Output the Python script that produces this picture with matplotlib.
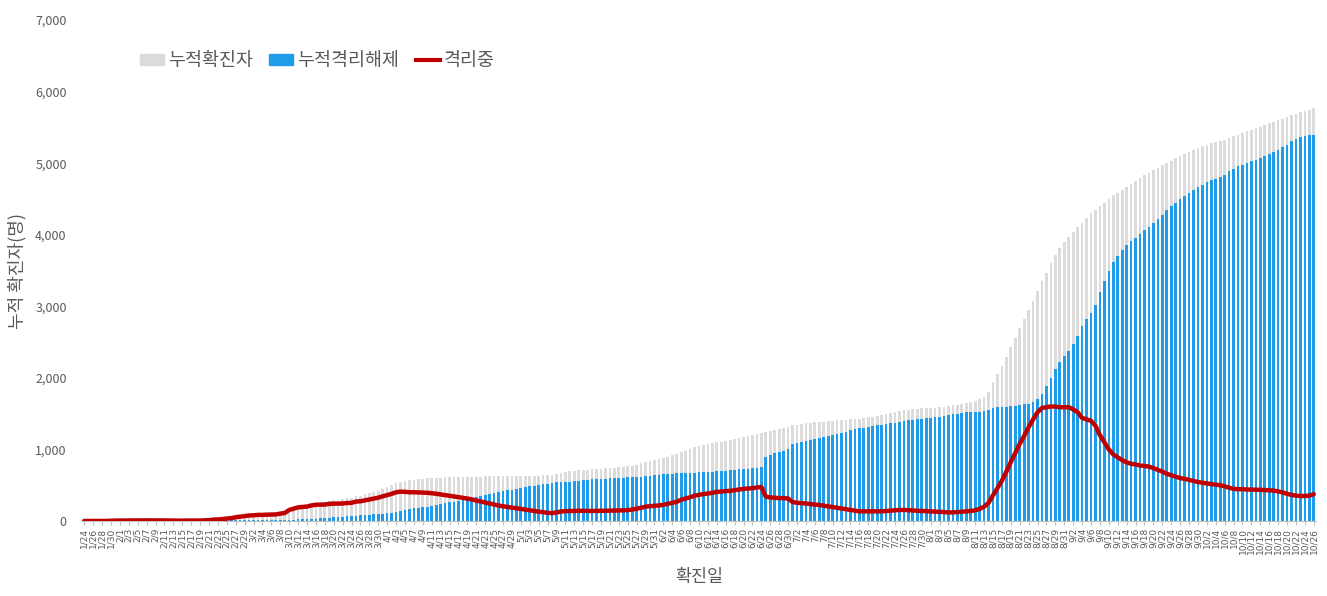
import matplotlib
matplotlib.use("Agg")
import matplotlib.pyplot as plt
from matplotlib.patches import Patch
from matplotlib.lines import Line2D
import numpy as np
import pandas as pd

plt.rcParams['font.family'] = ['Noto Sans CJK KR', 'DejaVu Sans']

# daily dates 2020-01-24 .. 2020-10-26
dates = pd.date_range('2020-01-24', '2020-10-26', freq='D')
date_labels = [f"{d.month}/{d.day}" for d in dates]

# cumulative confirmed (누적확진자)
conf_jan = [1, 1, 1, 1, 1, 1, 4, 6]
conf_feb = [7, 7, 7, 8, 9, 9, 10, 10, 10, 11, 11, 11, 11, 11, 11, 13, 14, 14, 15, 17,
            20, 28, 31, 35, 44, 49, 62, 70, 77]
conf_mar = [87, 91, 98, 99, 103, 105, 108, 120, 130, 172, 193, 213, 222, 230, 248, 260,
            265, 270, 285, 292, 300, 305, 316, 324, 347, 356, 373, 390, 408, 426, 450]
conf_apr = [474, 497, 528, 550, 563, 567, 578, 585, 590, 595, 600, 603, 607, 610, 612,
            613, 616, 618, 619, 620, 621, 622, 623, 624, 624, 625, 626, 627, 628, 629]
conf_may = [630, 632, 633, 634, 636, 637, 638, 644, 660, 675, 685, 692, 700, 707, 712,
            717, 722, 727, 731, 736, 740, 745, 750, 757, 762, 770, 785, 805, 825, 840, 852]
conf_jun = [868, 881, 900, 918, 935, 965, 985, 1005, 1030, 1045, 1058, 1070, 1085, 1100,
            1110, 1120, 1130, 1145, 1160, 1175, 1185, 1195, 1210, 1225, 1240, 1255, 1270,
            1285, 1305, 1320]
conf_jul = [1335, 1345, 1355, 1365, 1372, 1378, 1385, 1390, 1396, 1400, 1405, 1410, 1415,
            1420, 1425, 1430, 1440, 1450, 1460, 1470, 1480, 1495, 1510, 1525, 1540, 1550,
            1557, 1563, 1568, 1573, 1578]
conf_aug = [1580, 1585, 1590, 1598, 1605, 1615, 1625, 1640, 1655, 1665, 1680, 1700, 1735,
            1800, 1940, 2050, 2160, 2290, 2430, 2560, 2700, 2820, 2950, 3080, 3220, 3360,
            3470, 3600, 3720, 3810, 3900]
conf_sep = [3970, 4040, 4110, 4170, 4240, 4300, 4350, 4400, 4450, 4500, 4550, 4590, 4630,
            4670, 4710, 4750, 4790, 4830, 4865, 4900, 4935, 4970, 5000, 5035, 5070, 5100,
            5130, 5160, 5190, 5215]
conf_oct = [5235, 5255, 5275, 5290, 5305, 5325, 5350, 5375, 5400, 5425, 5445, 5465, 5485,
            5510, 5535, 5560, 5580, 5600, 5620, 5640, 5670, 5690, 5710, 5730, 5745, 5765]

# cumulative released from isolation (누적격리해제)
rel_jan = [0, 0, 0, 0, 0, 0, 0, 0]
rel_feb = [0, 0, 0, 0, 0, 1, 1, 1, 2, 2, 3, 3, 4, 5, 6, 6, 7, 7, 8, 8, 8, 8, 9, 9, 9, 9,
           9, 9, 9]
rel_mar = [10, 11, 12, 13, 14, 15, 16, 17, 18, 18, 20, 22, 25, 28, 30, 33, 36, 40, 45, 50,
           55, 60, 64, 70, 75, 80, 85, 90, 95, 100, 105]
rel_apr = [112, 118, 126, 140, 155, 165, 176, 185, 192, 200, 212, 222, 235, 248, 260, 270,
           282, 294, 305, 318, 335, 350, 365, 380, 395, 408, 420, 430, 440, 450]
rel_may = [460, 472, 483, 494, 504, 512, 523, 534, 540, 543, 547, 552, 558, 564, 570, 576,
           582, 585, 589, 592, 595, 599, 602, 607, 610, 610, 613, 620, 625, 632, 640]
rel_jun = [650, 655, 660, 663, 666, 668, 670, 673, 676, 679, 682, 686, 690, 694, 698, 702,
           708, 714, 720, 726, 730, 736, 742, 750, 900, 925, 945, 965, 985, 1005]
rel_jul = [1070, 1090, 1105, 1120, 1135, 1148, 1160, 1175, 1190, 1205, 1220, 1235, 1250,
           1265, 1280, 1295, 1305, 1315, 1325, 1335, 1345, 1355, 1365, 1375, 1385, 1395,
           1405, 1415, 1425, 1432, 1440]
rel_aug = [1445, 1453, 1460, 1473, 1485, 1495, 1500, 1510, 1520, 1525, 1530, 1530, 1535,
           1545, 1580, 1590, 1595, 1600, 1605, 1610, 1620, 1630, 1640, 1660, 1700, 1780,
           1880, 2000, 2120, 2220, 2310]
rel_sep = [2380, 2480, 2590, 2730, 2820, 2900, 3020, 3200, 3350, 3500, 3620, 3700, 3780,
           3850, 3910, 3960, 4015, 4060, 4105, 4160, 4220, 4280, 4340, 4395, 4450, 4500,
           4540, 4585, 4630, 4670]
rel_oct = [4700, 4730, 4758, 4780, 4805, 4840, 4885, 4925, 4955, 4980, 5005, 5025, 5047,
           5075, 5102, 5130, 5155, 5185, 5220, 5260, 5305, 5335, 5360, 5380, 5390, 5390]

confirmed = np.array(conf_jan + conf_feb + conf_mar + conf_apr + conf_may + conf_jun
                     + conf_jul + conf_aug + conf_sep + conf_oct)
released = np.array(rel_jan + rel_feb + rel_mar + rel_apr + rel_may + rel_jun
                    + rel_jul + rel_aug + rel_sep + rel_oct)
isolated = confirmed - released   # 격리중

c_gray = '#DBDBDB'
c_blue = '#1F9CE9'
c_red = '#C00000'
c_text = '#595959'

fig = plt.figure(figsize=(13.27, 5.96), dpi=100)
ax = fig.add_axes([0.0618, 0.1258, 0.9299, 0.8406])

x = np.arange(len(dates))
ax.bar(x, confirmed, width=0.6, color=c_gray, zorder=1)
ax.bar(x, released, width=0.6, color=c_blue, zorder=2)
ax.plot(x, isolated, color=c_red, linewidth=3.2, zorder=3, solid_capstyle='round')

ax.set_xlim(-0.5, len(x) - 0.5)
ax.set_ylim(0, 7000)
ax.set_yticks(np.arange(0, 7001, 1000))
ax.set_yticklabels([f"{v:,}" for v in range(0, 7001, 1000)], fontsize=9, color=c_text)

ax.set_xticks(x[::2])
ax.set_xticklabels(date_labels[::2], rotation=90, fontsize=6.5, color=c_text,
                   family=['DejaVu Sans'])
ax.tick_params(axis='x', length=3, color='#BFBFBF', pad=2)
ax.tick_params(axis='y', length=0, pad=11)

for s in ['top', 'right', 'left']:
    ax.spines[s].set_visible(False)
ax.spines['bottom'].set_color('#BFBFBF')

ax.set_ylabel('누적 확진자(명)', fontsize=13, color=c_text, labelpad=6)
ax.set_xlabel('확진일', fontsize=12.5, color=c_text, labelpad=10)

handles = [Patch(color=c_gray), Patch(color=c_blue),
           Line2D([0], [0], color=c_red, linewidth=3)]
ax.legend(handles, ['누적확진자', '누적격리해제', '격리중'], loc='center left',
          bbox_to_anchor=(0.047, 0.918), ncol=3, frameon=False, fontsize=13.3,
          handlelength=1.3, handleheight=0.5, handletextpad=0.2, columnspacing=0.9,
          labelcolor=c_text, borderaxespad=0, borderpad=0)

fig.savefig('out.png', dpi=100)
